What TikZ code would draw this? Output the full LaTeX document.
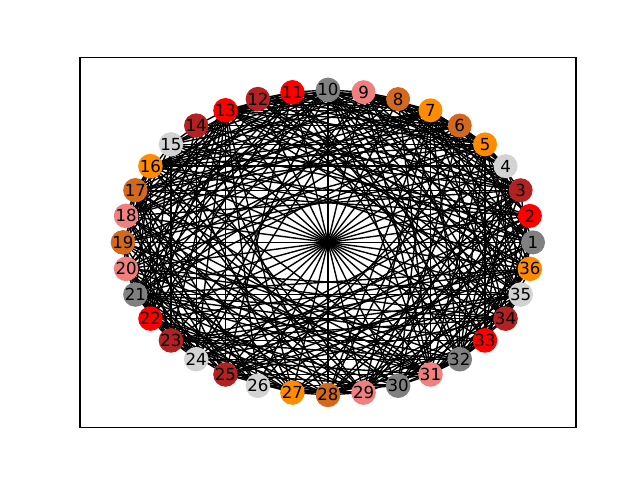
\documentclass[tikz,border=0pt]{standalone}
\usepackage{fontspec}
\setmainfont{DejaVu Sans}
\pgfdeclarelayer{background}
\pgfsetlayers{background,main}
\definecolor{mgray}{HTML}{808080}
\definecolor{mred}{HTML}{FF0000}
\definecolor{firebrick}{HTML}{B22222}
\definecolor{lgray}{HTML}{D3D3D3}
\definecolor{dorange}{HTML}{FF8C00}
\definecolor{choc}{HTML}{D2691E}
\definecolor{lcoral}{HTML}{F08080}
\tikzset{
  nd/.style={circle, minimum size=0.24in, inner sep=0pt, font=\fontsize{12}{14}\selectfont, text=black},
  edge/.style={line width=1pt, black},
  frame/.style={line width=0.8pt, black}
}
\begin{document}
\begin{tikzpicture}[x=0.01in, y=-0.01in]
\useasboundingbox (0,0) rectangle (640,480);
\draw[frame] (80,57.6) rectangle (576,427.2);
\coordinate (c) at (328,242.4);
\foreach \i/\col in {1/mgray,2/mred,3/firebrick,4/lgray,5/dorange,6/choc,7/dorange,8/choc,9/lcoral,10/mgray,11/mred,12/firebrick,13/mred,14/firebrick,15/lgray,16/dorange,17/choc,18/lcoral,19/choc,20/lcoral,21/mgray,22/mred,23/firebrick,24/lgray,25/firebrick,26/lgray,27/dorange,28/choc,29/lcoral,30/mgray,31/lcoral,32/mgray,33/mred,34/firebrick,35/lgray,36/dorange} {
  \node[nd, fill=\col] (n\i) at ({328+205*cos((\i-1)*10)},{242.4-152.5*sin((\i-1)*10)}) {\i};
}
\begin{pgfonlayer}{background}
\pgfmathsetseed{11}
\foreach \i in {1,...,36} {
  \draw[edge] (c) -- (n\i.center);
  \foreach \k in {1,...,15} {
    \pgfmathsetmacro\r{rnd}
    \pgfmathtruncatemacro\j{mod(\i+\k-1,36)+1}
    \ifdim\r pt<0.52pt \draw[edge] (n\i.center) -- (n\j.center); \fi
  }
}
\foreach \a/\b in {3/17,21/35,4/16,22/34,23/33,5/15,13/25,7/31} {
  \draw[edge] (n\a.center) -- (n\b.center);
}
\end{pgfonlayer}
\end{tikzpicture}
\end{document}
